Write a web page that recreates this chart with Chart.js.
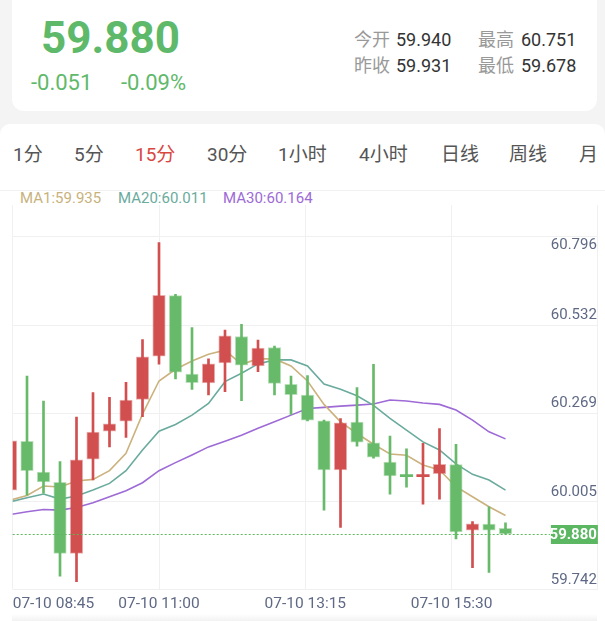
<!DOCTYPE html>
<html>
<head>
<meta charset="utf-8">
<script src="https://cdn.jsdelivr.net/npm/chart.js@4.4.0/dist/chart.umd.min.js"></script>
<style>
  html, body { margin: 0; padding: 0; }
  body {
    width: 605px; height: 621px; overflow: hidden; position: relative;
    background: #f4f4f4;
    font-family: Roboto, "Noto Sans CJK SC", sans-serif;
  }
  .card-top { position: absolute; left: 12px; top: -14px; width: 585px; height: 125px; background: #fff; border-radius: 12px; }
  .card-main { position: absolute; left: 0; top: 124px; width: 605px; height: 497px; background: #fff; border-radius: 10px 10px 0 0; }
  .t { position: absolute; white-space: nowrap; }
  .price { left: 41px; top: 16px; font-size: 44px; line-height: 44px; font-weight: 700; color: #5fb96a; }
  .chg { top: 72px; font-size: 22px; line-height: 22px; color: #5fb96a; }
  .lbl { font-size: 18px; line-height: 18px; color: #999; }
  .val { font-size: 18px; line-height: 18px; color: #333; }
  .tabs { position: absolute; left: 0; top: 0; width: 597px; height: 190px; overflow: hidden; }
  .tab { top: 145px; font-size: 19px; line-height: 19px; color: #555; }
  .tab.on { color: #d8483f; }
  .ma { top: 191px; font-size: 15px; line-height: 15px; }
  .sep { position: absolute; left: 0; top: 190px; width: 605px; height: 1px; background: #f1f1f1; }
  .foot { position: absolute; left: 12px; top: 614px; width: 585px; height: 7px; background: linear-gradient(#fff, #f2f2f2); }
  #c { position: absolute; left: 0; top: 0; z-index: 2; }
</style>
</head>
<body>
<div class="card-top"></div>
<div class="card-main"></div>
<div class="sep"></div>
<div class="foot"></div>

<div class="t price">59.880</div>
<div class="t chg" style="left:31px">-0.051</div>
<div class="t chg" style="left:121px">-0.09%</div>

<div class="t lbl" style="left:354px;top:31px">今开</div>
<div class="t val" style="left:396px;top:31px">59.940</div>
<div class="t lbl" style="left:478px;top:31px">最高</div>
<div class="t val" style="left:521px;top:31px">60.751</div>
<div class="t lbl" style="left:354px;top:57px">昨收</div>
<div class="t val" style="left:396px;top:57px">59.931</div>
<div class="t lbl" style="left:478px;top:57px">最低</div>
<div class="t val" style="left:521px;top:57px">59.678</div>

<div class="tabs">
  <div class="t tab" style="left:13px">1分</div>
  <div class="t tab" style="left:74px">5分</div>
  <div class="t tab on" style="left:135px">15分</div>
  <div class="t tab" style="left:207px">30分</div>
  <div class="t tab" style="left:278px">1小时</div>
  <div class="t tab" style="left:359px">4小时</div>
  <div class="t tab" style="left:441px">日线</div>
  <div class="t tab" style="left:509px">周线</div>
  <div class="t tab" style="left:579px">月线</div>
</div>

<div class="t ma" style="left:20px;color:#c8b27c">MA1:59.935</div>
<div class="t ma" style="left:118px;color:#6aab9e">MA20:60.011</div>
<div class="t ma" style="left:223px;color:#9d6ad6">MA30:60.164</div>

<canvas id="c" width="605" height="621"></canvas>

<script>
// 15 minute candles
const times = [
  '07-10 08:45', '07-10 09:00', '07-10 09:15', '07-10 09:30', '07-10 09:45', '07-10 10:00',
  '07-10 10:15', '07-10 10:30', '07-10 10:45', '07-10 11:00', '07-10 11:15', '07-10 11:30',
  '07-10 11:45', '07-10 12:00', '07-10 12:15', '07-10 12:30', '07-10 12:45', '07-10 13:00',
  '07-10 13:15', '07-10 13:30', '07-10 13:45', '07-10 14:00', '07-10 14:15', '07-10 14:30',
  '07-10 14:45', '07-10 15:00', '07-10 15:15', '07-10 15:30', '07-10 15:45', '07-10 16:00',
  '07-10 16:15'
];
const opens  = [60.011, 60.157, 60.065, 60.034, 59.822, 60.103, 60.187, 60.217, 60.282, 60.411, 60.592, 60.358, 60.331, 60.391, 60.470, 60.382, 60.437, 60.327, 60.295, 60.218, 60.071, 60.214, 60.152, 60.095, 60.054, 60.051, 60.060, 60.087, 59.891, 59.909, 59.897];
const highs  = [60.205, 60.352, 60.277, 60.096, 60.229, 60.302, 60.288, 60.333, 60.461, 60.751, 60.596, 60.497, 60.403, 60.489, 60.506, 60.459, 60.441, 60.352, 60.353, 60.220, 60.225, 60.317, 60.387, 60.172, 60.134, 60.151, 60.195, 60.148, 59.917, 59.961, 59.913];
const lows   = [59.918, 59.996, 60.002, 59.754, 59.737, 60.041, 60.140, 60.168, 60.230, 60.387, 60.343, 60.312, 60.295, 60.305, 60.278, 60.365, 60.295, 60.237, 60.218, 59.951, 59.899, 60.142, 60.106, 59.999, 60.020, 59.969, 59.984, 59.865, 59.779, 59.765, 59.880];
const closes = [60.158, 60.069, 60.035, 59.822, 60.101, 60.184, 60.209, 60.280, 60.409, 60.593, 60.363, 60.332, 60.388, 60.472, 60.384, 60.435, 60.330, 60.296, 60.220, 60.071, 60.212, 60.154, 60.109, 60.053, 60.051, 60.054, 60.088, 59.886, 59.910, 59.891, 59.880];

const ma1  = [59.981, 59.995, 60.023, 60.020, 60.038, 60.043, 60.069, 60.121, 60.238, 60.337, 60.372, 60.397, 60.417, 60.429, 60.387, 60.403, 60.403, 60.382, 60.337, 60.267, 60.215, 60.180, 60.148, 60.119, 60.115, 60.086, 60.071, 60.021, 59.991, 59.961, 59.935];
const ma20 = [59.976, 59.988, 59.999, 59.984, 59.993, 60.011, 60.031, 60.069, 60.131, 60.187, 60.207, 60.235, 60.270, 60.335, 60.360, 60.388, 60.400, 60.400, 60.382, 60.328, 60.312, 60.293, 60.264, 60.225, 60.190, 60.155, 60.131, 60.089, 60.058, 60.041, 60.011];
const ma30 = [59.938, 59.946, 59.953, 59.951, 59.959, 59.973, 59.991, 60.009, 60.033, 60.069, 60.093, 60.116, 60.140, 60.157, 60.175, 60.196, 60.215, 60.235, 60.255, 60.258, 60.262, 60.265, 60.268, 60.280, 60.277, 60.271, 60.267, 60.250, 60.220, 60.185, 60.164];

const yTicks = [60.796, 60.532, 60.269, 60.005, 59.742];
const lastPrice = 59.880;

const RED = '#d14f4f', GREEN = '#67ba69';
const up = closes.map((c, i) => c > opens[i]);
const colors = up.map(u => u ? RED : GREEN);
const edges = up.map(u => u ? 'rgba(209,79,79,0.45)' : 'rgba(103,186,105,0.45)');

Chart.defaults.font.family = 'Roboto';

// grid rows, right side price labels and the last price line
const overlay = {
  id: 'overlay',
  beforeDatasetsDraw(chart) {
    const { ctx, chartArea: a, scales: { y } } = chart;
    ctx.save();
    ctx.strokeStyle = '#f0f0f0';
    ctx.lineWidth = 1;
    yTicks.forEach(v => {
      const py = Math.round(y.getPixelForValue(v) + 9) + 0.5;
      ctx.beginPath();
      ctx.moveTo(a.left, py);
      ctx.lineTo(a.right, py);
      ctx.stroke();
    });
    ctx.restore();
  },
  afterDatasetsDraw(chart) {
    const { ctx, chartArea: a, scales: { y } } = chart;
    ctx.save();
    ctx.font = '15px Roboto';
    ctx.fillStyle = '#5f6985';
    ctx.textAlign = 'right';
    ctx.textBaseline = 'middle';
    yTicks.forEach((v, i) => {
      let py = y.getPixelForValue(v);
      if (i === 0) py += 18;
      ctx.fillText(v.toFixed(3), a.right - 1, py);
    });

    const py = Math.round(y.getPixelForValue(lastPrice)) + 0.5;
    ctx.strokeStyle = '#5cb85c';
    ctx.lineWidth = 1;
    ctx.setLineDash([2, 2]);
    ctx.beginPath();
    ctx.moveTo(a.left, py);
    ctx.lineTo(a.right - 48, py);
    ctx.stroke();
    ctx.setLineDash([]);
    ctx.fillStyle = '#5cb762';
    ctx.fillRect(a.right - 47, py - 9.5, 47, 19);
    ctx.fillStyle = '#fff';
    ctx.font = 'bold 15px Roboto';
    ctx.fillText(lastPrice.toFixed(3), a.right - 1, py + 0.5);
    ctx.restore();
  }
};

new Chart(document.getElementById('c'), {
  type: 'bar',
  data: {
    datasets: [
      {
        label: 'body',
        data: times.map((t, i) => ({ x: i, y: [opens[i], closes[i]] })),
        backgroundColor: colors,
        borderColor: edges,
        borderWidth: opens.map((o, i) => Math.abs(o - closes[i]) < 0.006 ? 0 : 1),
        borderSkipped: false,
        barThickness: 12.5,
        minBarLength: 2,
        grouped: false
      },
      {
        label: 'wick',
        data: times.map((t, i) => ({ x: i, y: [lows[i], highs[i]] })),
        backgroundColor: colors,
        barThickness: 2,
        grouped: false
      },
      { type: 'line', label: 'MA1', data: ma1.map((v, i) => ({ x: i, y: v })), borderColor: '#cbb27e', borderWidth: 1.6, pointRadius: 0, tension: 0 },
      { type: 'line', label: 'MA20', data: ma20.map((v, i) => ({ x: i, y: v })), borderColor: '#6aab9e', borderWidth: 1.6, pointRadius: 0, tension: 0 },
      { type: 'line', label: 'MA30', data: ma30.map((v, i) => ({ x: i, y: v })), borderColor: '#9d6ad6', borderWidth: 1.6, pointRadius: 0, tension: 0 }
    ]
  },
  options: {
    responsive: false,
    animation: false,
    layout: { padding: { left: 12.7, right: 7.1, top: 205, bottom: 2.4 } },
    plugins: { legend: { display: false }, tooltip: { enabled: false } },
    scales: {
      x: {
        type: 'linear',
        min: 0.133,
        max: 35.6,
        offset: false,
        afterBuildTicks: function(scale) {
          const step = (scale.max - scale.min) / 4;
          scale.ticks = [0, 1, 2, 3, 4].map(i => ({ value: scale.min + i * step }));
        },
        ticks: {
          autoSkip: false,
          maxRotation: 0,
          align: 'inner',
          padding: 7,
          color: '#5f6985',
          font: { size: 15.5, lineHeight: 1 },
          callback: function(value, index) {
            return index < 4 ? times[Math.round(value)] : '';
          }
        },
        grid: { offset: false, color: '#f0f0f0', drawTicks: false },
        border: { display: false }
      },
      y: {
        display: false,
        min: 59.715,
        max: 60.863
      }
    }
  },
  plugins: [overlay]
});
</script>
</body>
</html>
